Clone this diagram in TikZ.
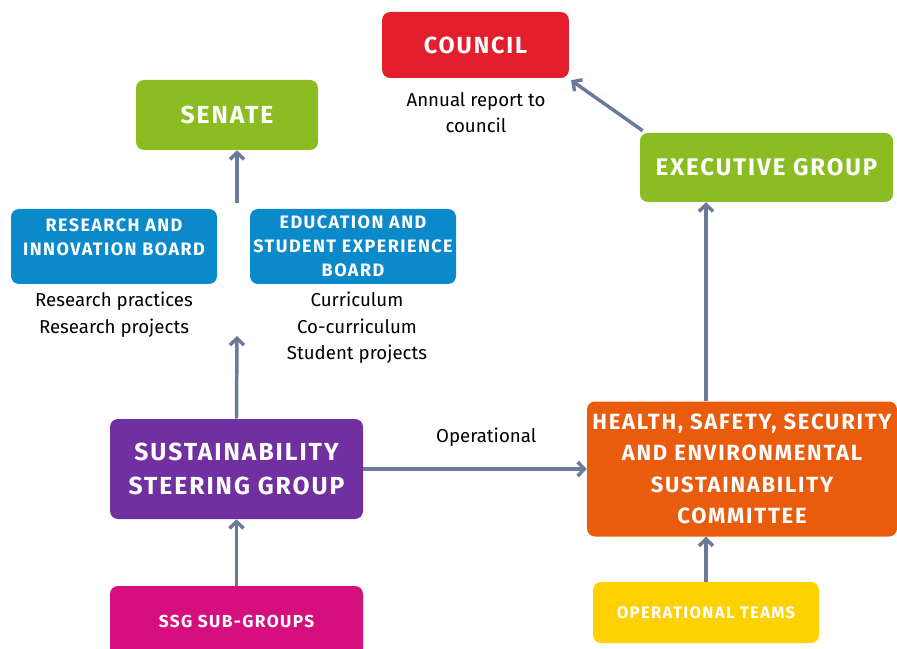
\documentclass[tikz,border=0pt]{standalone}
\usepackage{fontspec}
\setmainfont{Fira Sans}
\newfontfamily\boxfont{Fira Sans}[LetterSpace=8.0]
\usetikzlibrary{arrows.meta}
\definecolor{councilred}{HTML}{E31E2D}
\definecolor{boardgreen}{HTML}{8BBD23}
\definecolor{boardblue}{HTML}{0A89CB}
\definecolor{ssgpurple}{HTML}{7030A0}
\definecolor{hsseorange}{HTML}{E95C0D}
\definecolor{subpink}{HTML}{D60F7E}
\definecolor{teamyellow}{HTML}{FFD100}
\definecolor{linkgrey}{HTML}{6A7A9B}
\tikzset{
    box/.style={rounded corners=6pt, text=white, align=center, inner sep=0pt},
    link/.style={draw=linkgrey, line width=2.6pt, -{Straight Barb[length=5pt,width=10.5pt]}},
    note/.style={align=center, font=\fontsize{14}{20}\selectfont}
}

\begin{document}
\begin{tikzpicture}[x=0.75pt,y=-0.75pt]
    \useasboundingbox (0,0) rectangle (897,649);

    % top of the chart
    \node[box, fill=councilred, minimum width=140pt, minimum height=49.5pt, font=\fontsize{17.5}{20}\boxfont\bfseries] (council) at (475.5,45) {COUNCIL};
    \node[note, font=\fontsize{14}{19.5}\selectfont] (annual) at (476,113) {Annual report to\\council};
    \node[box, fill=boardgreen, minimum width=136.5pt, minimum height=52.5pt, font=\fontsize{18.5}{20}\boxfont\bfseries] (senate) at (227,115) {SENATE};
    \node[box, fill=boardgreen, minimum width=189.75pt, minimum height=51.75pt, font=\fontsize{18}{20}\boxfont\bfseries] (exec) at (766.5,167.5) {EXECUTIVE GROUP};

    % boards
    \node[box, fill=boardblue, minimum width=154.5pt, minimum height=56.25pt, font=\fontsize{13.5}{18}\boxfont\bfseries] (rib) at (114,246.5) {RESEARCH AND\\INNOVATION BOARD\\[-4pt]};
    \node[box, fill=boardblue, minimum width=154.5pt, minimum height=56.25pt, font=\fontsize{13.5}{18}\boxfont\bfseries] (eseb) at (353,246.5) {EDUCATION AND\\STUDENT EXPERIENCE\\BOARD};
    \node[note] (ribnote) at (114,314.5) {Research practices\\Research projects};
    \node[note] (esebnote) at (357,328) {Curriculum\\Co-curriculum\\Student projects};

    % groups
    \node[box, fill=ssgpurple, minimum width=189.75pt, minimum height=75pt, font=\fontsize{18.5}{26}\boxfont\bfseries] (ssg) at (236.5,469) {SUSTAINABILITY\\STEERING GROUP};
    \node[box, fill=hsseorange, minimum width=232.5pt, minimum height=101.25pt, font=\fontsize{16.5}{23.5}\boxfont\bfseries] (hsse) at (742,469) {HEALTH, SAFETY, SECURITY\\AND ENVIRONMENTAL\\SUSTAINABILITY\\COMMITTEE};
    \node[box, fill=subpink, minimum width=189.75pt, minimum height=52.5pt, font=\fontsize{13}{16}\boxfont\bfseries] (subgroups) at (236.5,621) {SSG SUB-GROUPS};
    \node[box, fill=teamyellow, minimum width=169.5pt, minimum height=45.75pt, font=\fontsize{12.5}{16}\boxfont\bfseries] (opteams) at (706,612.5) {OPERATIONAL TEAMS};

    \coordinate (boardsbelow) at (237,336);
    \coordinate (boardsabove) at (237,203);

    \draw[link] (subgroups.north) -- (ssg.south);
    \draw[link] (ssg.north) -- (boardsbelow);
    \draw[link] (boardsabove) -- (boardsabove |- senate.south);
    \draw[link] (ssg.east) -- (hsse.west) node[pos=0.55, above=12pt, font=\fontsize{14}{16}\selectfont, text=black] {Operational};
    \draw[link] (opteams.north) -- (opteams.north |- hsse.south);
    \draw[link] (hsse.north -| opteams.north) -- (exec.south -| opteams.north);
    \draw[link] ([shift={(3,-2)}]exec.north west) -- ([shift={(2,2)}]council.south east);

\end{tikzpicture}
\end{document}
